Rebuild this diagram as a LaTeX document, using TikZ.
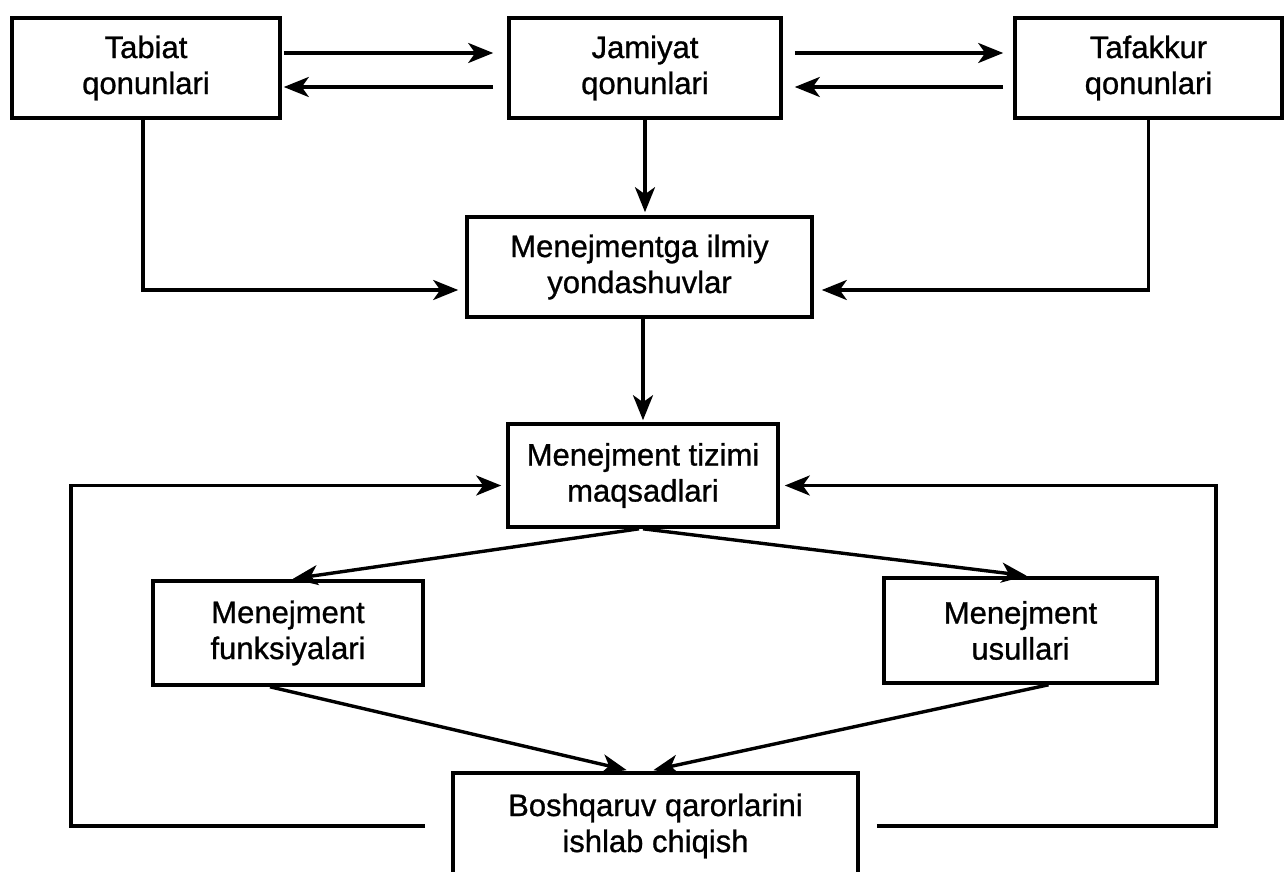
\documentclass[tikz,border=0pt]{standalone}
\usepackage{fontspec}
\setmainfont{Liberation Sans}
\newfontfamily\diagfont[FakeBold=0.9]{Liberation Sans}
\usetikzlibrary{arrows.meta}

\begin{document}
\begin{tikzpicture}[x=1pt,y=-1pt,
  box/.style={draw, line width=3.6pt, inner sep=0pt, align=center,
    font=\diagfont\fontsize{31pt}{36pt}\selectfont},
  arr/.style={line width=3.4pt,
    -{Stealth[length=25pt,width=20pt,inset=7pt]}}]

% page frame
\fill[white] (0,0) rectangle (1288,872);
\useasboundingbox (0,0) rectangle (1288,872);

% laws
\node[box, minimum width=268pt, minimum height=100pt] (tab) at (146,68)
  {Tabiat\\qonunlari};
\node[box, minimum width=272pt, minimum height=100pt] (jam) at (645,68)
  {Jamiyat\\qonunlari};
\node[box, minimum width=267pt, minimum height=100pt] (taf) at (1148.5,68)
  {Tafakkur\\qonunlari};

% approaches and goals
\node[box, minimum width=345pt, minimum height=100pt] (ilm) at (639.5,267)
  {Menejmentga ilmiy\\yondashuvlar};
\node[box, minimum width=270pt, minimum height=103pt] (maq) at (643,475.5)
  {Menejment tizimi\\maqsadlari};

% functions and methods
\node[box, minimum width=270pt, minimum height=104pt] (fun) at (288,633)
  {Menejment\\funksiyalari};
\node[box, minimum width=273pt, minimum height=105pt] (usu) at (1020.5,630.5)
  {Menejment\\usullari};

% decisions
\node[box, minimum width=405pt, minimum height=106pt] (bos) at (655.5,826)
  {Boshqaruv qarorlarini\\ishlab chiqish};

% feedback loop corners
\coordinate (fbl) at (71,0);
\coordinate (fbr) at (1216,0);

% links between the laws
\draw[arr, shorten <=2pt, shorten >=14pt]
  ([yshift=15pt]tab.east) -- ([yshift=15pt]jam.west);
\draw[arr, shorten <=14pt, shorten >=2pt]
  ([yshift=-19pt]jam.west) -- ([yshift=-19pt]tab.east);
\draw[arr, shorten <=12pt, shorten >=10pt]
  ([yshift=15pt]jam.east) -- ([yshift=15pt]taf.west);
\draw[arr, shorten <=10pt, shorten >=12pt]
  ([yshift=-19pt]taf.west) -- ([yshift=-19pt]jam.east);

% laws to approaches
\draw[arr, shorten >=3pt] (jam.south) -- (jam.south |- ilm.north);
\draw[arr, shorten >=7pt] ([xshift=-3pt]tab.south) |- ([yshift=-23pt]ilm.west);
\draw[arr, shorten >=8pt] (taf.south) |- ([yshift=-23pt]ilm.east);

% approaches to goals
\draw[arr, shorten >=2pt] (maq.north |- ilm.south) -- (maq.north);

% goals to functions and methods
\draw[arr, shorten >=3pt] ([xshift=-4pt]maq.south) -- ([xshift=2pt]fun.north);
\draw[arr, shorten >=4pt] (maq.south) -- ([xshift=10pt]usu.north);

% functions and methods to decisions
\draw[arr, shorten >=5pt] ([xshift=-18pt]fun.south) -- ([xshift=-24pt]bos.north);
\draw[arr, shorten >=5pt] ([xshift=28pt]usu.south) -- ([xshift=-7pt]bos.north);

% feedback from decisions to goals
\draw[arr, shorten <=26pt, shorten >=5pt]
  (bos.west) -- (bos.west -| fbl) |- ([yshift=-10pt]maq.west);
\draw[arr, shorten <=17pt, shorten >=5pt]
  (bos.east) -- (bos.east -| fbr) |- ([yshift=-10pt]maq.east);

\end{tikzpicture}
\end{document}
